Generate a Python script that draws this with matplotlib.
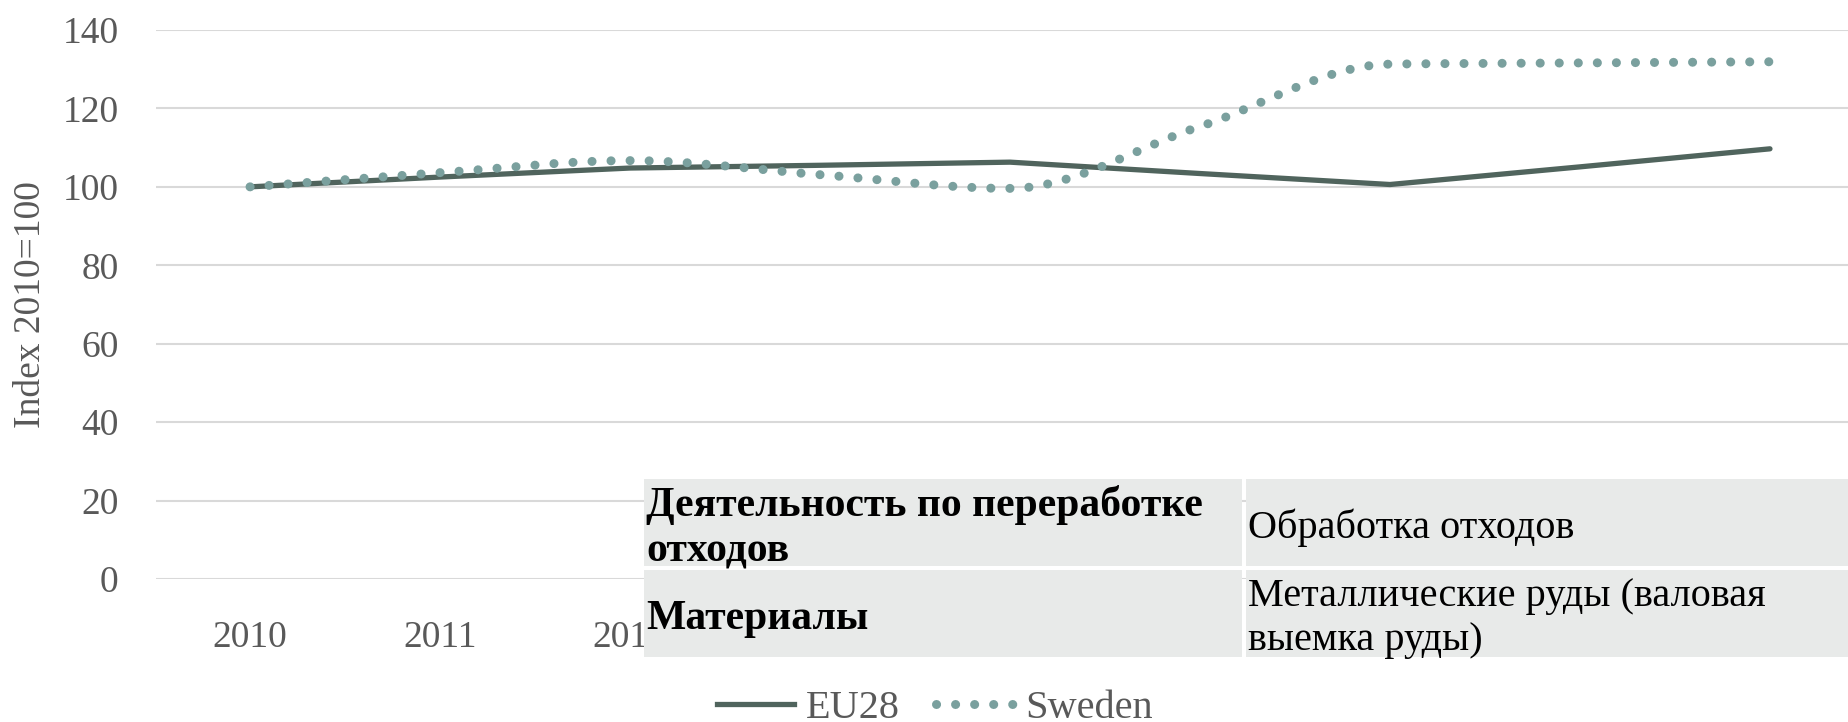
import numpy as np
from matplotlib import pyplot as plt
from matplotlib.patches import Rectangle
from matplotlib.lines import Line2D

years = ['2010', '2011', '2012', '2013', '2014', '2015', '2016', '2017', '2018']
eu28 = [100, 102.5, 104.8, 105.5, 106.3, 103.4, 100.6, 105.1, 109.7]
sweden = [100, 103.6, 106.7, 103.1, 99.6, 115.4, 131.3, 131.6, 131.9]

table_rows = [
    ('Деятельность по переработке\nотходов', 'Обработка отходов'),
    ('Материалы', 'Металлические руды (валовая\nвыемка руды)'),
]

W, H = 1849, 722
DARK = '#50645d'
LIGHT = '#7aa09e'
GREY = '#595959'
DOTS = (0, (0.01, 2.1))
plt.rcParams['font.family'] = ['Liberation Serif', 'DejaVu Serif']


def fx(px):
    return px / W


def fy(py):
    return 1 - py / H


def smooth(y, n=40):
    # monotone cubic (fritsch-carlson) so the curve doesn't overshoot
    y = np.asarray(y, float)
    d = np.diff(y)
    m = np.zeros_like(y)
    m[0], m[-1] = d[0], d[-1]
    for i in range(1, len(y) - 1):
        if d[i-1] * d[i] > 0:
            m[i] = 2 / (1/d[i-1] + 1/d[i])
    xs, ys = [], []
    for i in range(len(y) - 1):
        t = np.linspace(0, 1, n, endpoint=False)
        h00 = 2*t**3 - 3*t**2 + 1
        h10 = t**3 - 2*t**2 + t
        h01 = -2*t**3 + 3*t**2
        h11 = t**3 - t**2
        xs.append(i + t)
        ys.append(h00*y[i] + h10*m[i] + h01*y[i+1] + h11*m[i+1])
    xs.append([len(y) - 1])
    ys.append([y[-1]])
    return np.concatenate(xs), np.concatenate(ys)


fig = plt.figure(figsize=(W/100, H/100), dpi=100)
ax = fig.add_axes([fx(156), fy(579), fx(W - 156), (579 - 30) / H])

x = np.arange(len(years))
ax.plot(x, eu28, color=DARK, lw=3.8, solid_capstyle='round', zorder=3)
sx, sy = smooth(sweden)
ax.plot(sx, sy, color=LIGHT, lw=6.5, linestyle=DOTS,
        dash_capstyle='round', zorder=4)

ax.set_xlim(-0.495, 8.416)
ax.set_ylim(0, 140)
ax.set_yticks(range(0, 141, 20))
ax.set_xticks(x)
ax.set_xticklabels(years)
ax.grid(axis='y', color='#d9d9d9', lw=1.5)
ax.set_axisbelow(True)
for s in ax.spines.values():
    s.set_visible(False)
ax.tick_params(length=0, labelsize=27, colors=GREY)
ax.tick_params(axis='x', pad=30)
ax.tick_params(axis='y', pad=27)
ax.set_ylabel('Index 2010=100', fontsize=27, color=GREY)
ax.yaxis.set_label_coords((48 - 156) / (W - 156), 0.5)

# overlaid table
cols = [(644, 1242), (1246, 1849)]
rows = [(479, 566), (570, 657)]
for r, (y0, y1) in enumerate(rows):
    for c, (x0, x1) in enumerate(cols):
        fig.add_artist(Rectangle((fx(x0), fy(y1)), fx(x1 - x0), (y1 - y0) / H,
                                 transform=fig.transFigure, facecolor='#e8eae9',
                                 edgecolor='none', zorder=10))
        fig.text(fx(x0 + 2), fy((y0 + y1) / 2 + 5), table_rows[r][c],
                 fontsize=30 if c == 0 else 29, color='black', ha='left', va='center',
                 fontweight='bold' if c == 0 else 'normal',
                 linespacing=1.25, zorder=11)

handles = [Line2D([], [], color=DARK, lw=3.8),
           Line2D([], [], color=LIGHT, lw=6.5, linestyle=DOTS,
                  dash_capstyle='round')]
fig.legend(handles, ['EU28', 'Sweden'], loc='center', bbox_to_anchor=(fx(935), fy(708)),
           ncol=2, frameon=False, fontsize=29, labelcolor=GREY,
           handlelength=1.9, handletextpad=0.3, columnspacing=0.9)

fig.savefig('out.png', dpi=100)
